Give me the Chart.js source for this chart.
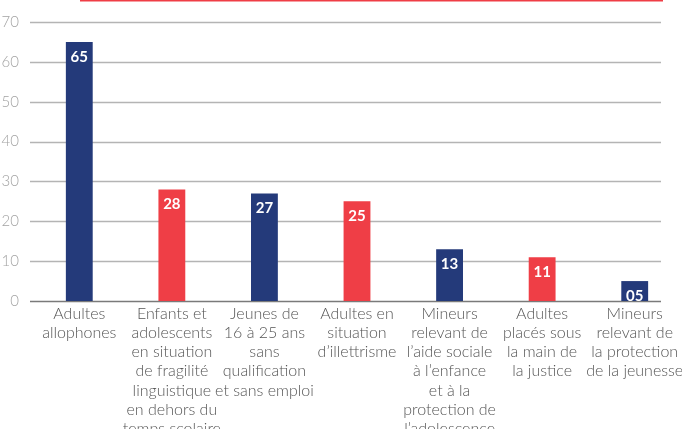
<!DOCTYPE html>
<html>
<head>
<meta charset="utf-8">
<script src="https://cdn.jsdelivr.net/npm/chart.js@4"></script>
<style>
  html, body { margin: 0; padding: 0; background: #fff; overflow: hidden; }
  #wrap { width: 682px; height: 429px; position: relative; }
</style>
</head>
<body>
<div id="wrap"><canvas id="chart"></canvas></div>
<script>
// catégories (libellés sur plusieurs lignes)
const categories = [
  ["Adultes", "allophones"],
  ["Enfants et", "adolescents", "en situation", "de fragilité", "linguistique", "en dehors du", "temps scolaire"],
  ["Jeunes de", "16 à 25 ans", "sans", "qualification", "et sans emploi"],
  ["Adultes en", "situation", "d’illettrisme"],
  ["Mineurs", "relevant de", "l’aide sociale", "à l’enfance", "et à la", "protection de", "l’adolescence"],
  ["Adultes", "placés sous", "la main de", "la justice"],
  ["Mineurs", "relevant de", "la protection", "de la jeunesse"]
];
const values = [65, 28, 27, 25, 13, 11, 5];
const yTicks = [0, 10, 20, 30, 40, 50, 60, 70];

const NAVY = "#243a7a";
const RED = "#ef3e46";
const barColors = values.map((v, i) => (i % 2 === 0 ? NAVY : RED));

// lignes de grille + trait rouge en haut
const decor = {
  id: "decor",
  beforeDatasetsDraw(chart) {
    const ctx = chart.ctx;
    const y = chart.scales.y;
    ctx.save();
    yTicks.forEach(t => {
      const py = Math.round(y.getPixelForValue(t)) + 0.5;
      ctx.beginPath();
      ctx.lineWidth = t === 0 ? 1.6 : 1.3;
      ctx.strokeStyle = t === 0 ? "#7a7a7a" : "#b4b4b4";
      ctx.moveTo(30, py);
      ctx.lineTo(661, py);
      ctx.stroke();
    });
    ctx.fillStyle = RED;
    ctx.fillRect(80, 0, 583, 1.5);
    ctx.restore();
  },
  afterDatasetsDraw(chart) {
    const ctx = chart.ctx;
    const meta = chart.getDatasetMeta(0);
    ctx.save();
    ctx.fillStyle = "#fff";
    ctx.font = "bold 15px Lato, 'Open Sans', sans-serif";
    ctx.textAlign = "center";
    ctx.textBaseline = "middle";
    meta.data.forEach((bar, i) => {
      const txt = String(values[i]).padStart(2, "0");
      ctx.fillText(txt, bar.x, bar.y + 15);
    });
    ctx.restore();
  }
};

new Chart(document.getElementById("chart").getContext("2d"), {
  type: "bar",
  data: {
    labels: categories,
    datasets: [{
      data: values,
      backgroundColor: barColors,
      borderWidth: 0,
      barPercentage: 0.29,
      categoryPercentage: 1
    }]
  },
  options: {
    responsive: true,
    maintainAspectRatio: false,
    animation: false,
    layout: { padding: { top: 22, left: 0, right: 1, bottom: 0 } },
    plugins: {
      legend: { display: false },
      tooltip: { enabled: false }
    },
    scales: {
      y: {
        min: 0,
        max: 70,
        afterFit(scale) { scale.width = 33; },
        border: { display: false },
        grid: { display: false },
        ticks: {
          stepSize: 10,
          padding: 6,
          color: "#a3a3a3",
          font: { size: 15, family: "Lato", weight: 300 }
        }
      },
      x: {
        afterFit(scale) { scale.height = 128; },
        border: { display: false },
        grid: { display: false },
        ticks: {
          padding: -5,
          maxRotation: 0,
          autoSkip: false,
          color: "#555",
          font: { size: 16, family: "Lato", weight: 300, lineHeight: 1.2 }
        }
      }
    }
  },
  plugins: [decor]
});
</script>
</body>
</html>
